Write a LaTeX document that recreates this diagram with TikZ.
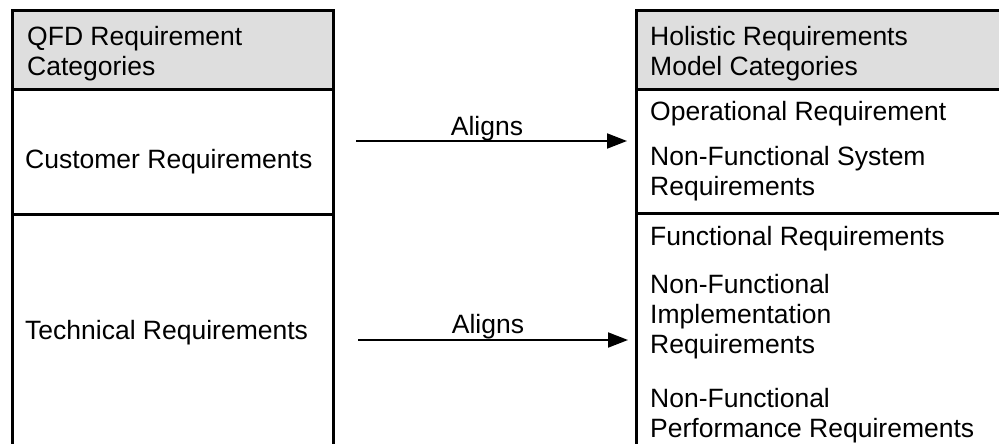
\documentclass[tikz,border=0pt]{standalone}
\usepackage{fontspec}
\setmainfont{Liberation Sans}
\usetikzlibrary{arrows.meta}
\definecolor{headgray}{RGB}{222,222,222}
\tikzset{
  frame/.style={draw=black, line width=2.7pt, rectangle, inner sep=0pt, anchor=north west},
  head/.style={frame, fill=headgray},
  % multi-line texts are anchored at the baseline of their last line
  txt/.style={font=\fontsize{26.5}{30}\selectfont, anchor=base west, align=left, inner sep=0pt},
  lbl/.style={font=\fontsize{26.5}{30}\selectfont, anchor=base, inner sep=0pt},
  link/.style={line width=2pt, -{Triangle[length=20pt,width=15pt]}}
}
\begin{document}
\begin{tikzpicture}[x=1pt,y=-1pt]
\useasboundingbox (0,0) rectangle (999,444);
\clip (0,0) rectangle (999,444);
% left table: QFD categories
\node[head,  minimum width=321pt, minimum height=79pt]  (lhead) at (11,9)   {};
\node[frame, minimum width=321pt, minimum height=125pt] (lcust) at (11,88)  {};
\node[frame, minimum width=321pt, minimum height=260pt] (ltech) at (11,213) {};
% right table: holistic model categories
\node[head,  minimum width=390pt, minimum height=79pt]  (rhead) at (635,9)   {};
\node[frame, minimum width=390pt, minimum height=124pt] (rup)   at (635,88)  {};
\node[frame, minimum width=390pt, minimum height=260pt] (rlow)  at (635,212) {};
% cell texts
\node[txt] (t1) at (27,75)  {QFD Requirement\\Categories};
\node[txt] (t2) at (25,168) {Customer Requirements};
\node[txt] (t3) at (25,339) {Technical Requirements};
\node[txt] (h1) at (650,75)  {Holistic Requirements\\Model Categories};
\node[txt] (r1) at (650,121) {Operational Requirement};
\node[txt] (r2) at (650,195) {Non-Functional System\\Requirements};
\node[txt] (r3) at (650,245) {Functional Requirements};
\node[txt] (r4) at (650,353) {Non-Functional\\Implementation\\Requirements};
\node[txt] (r5) at (650,437) {Non-Functional\\Performance Requirements};
% alignment arrows
\coordinate (a1s) at (356,141);
\coordinate (a1e) at (627,141);
\coordinate (a2s) at (358,340);
\coordinate (a2e) at (628,340);
\draw[link] (a1s) -- (a1e);
\draw[link] (a2s) -- (a2e);
\node[lbl] (al1) at (487,135) {Aligns};
\node[lbl] (al2) at (488,333) {Aligns};
\end{tikzpicture}
\end{document}
